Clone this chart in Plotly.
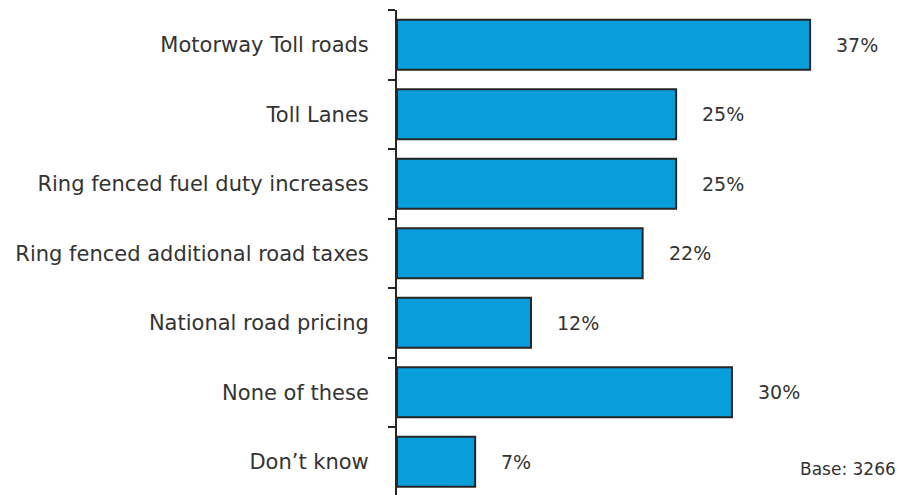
import plotly.graph_objects as go

categories = [
    "Motorway Toll roads",
    "Toll Lanes",
    "Ring fenced fuel duty increases",
    "Ring fenced additional road taxes",
    "National road pricing",
    "None of these",
    "Don\u2019t know",
]
values = [37, 25, 25, 22, 12, 30, 7]
base_note = "Base: 3266"

BAR_COLOR = "#079edb"
EDGE = "#262626"
TEXT = "#333333"
FONT = "DejaVu Sans"

fig = go.Figure(
    go.Bar(
        x=values,
        y=categories,
        orientation="h",
        marker=dict(color=BAR_COLOR, line=dict(color=EDGE, width=2)),
        width=0.72,
        hoverinfo="skip",
    )
)

for cat, v in zip(categories, values):
    fig.add_annotation(
        x=v, y=cat, xref="x", yref="y",
        text=f"{v}%", showarrow=False,
        xanchor="left", yanchor="middle", xshift=24,
        font=dict(family=FONT, size=19, color=TEXT),
    )

fig.add_annotation(
    x=1, y=0, xref="paper", yref="paper",
    text=base_note, showarrow=False,
    xanchor="right", yanchor="bottom", xshift=-7, yshift=14,
    font=dict(family=FONT, size=17, color=TEXT),
)

fig.update_layout(
    width=905, height=495,
    margin=dict(l=397, r=0, t=10, b=0),
    paper_bgcolor="white", plot_bgcolor="white",
    showlegend=False,
    font=dict(family=FONT, size=21, color=TEXT),
    xaxis=dict(range=[0, 45.5], visible=False, fixedrange=True),
    yaxis=dict(
        type="category",
        categoryorder="array", categoryarray=categories,
        range=[6.478, -0.5],
        showline=True, linecolor=EDGE, linewidth=2,
        ticks="outside", tickson="boundaries", ticklen=7,
        tickwidth=2, tickcolor=EDGE,
        ticklabelstandoff=22,
        showgrid=False, zeroline=False,
        tickfont=dict(family=FONT, size=21, color=TEXT),
        fixedrange=True,
    ),
)

fig.write_html("out.html")
